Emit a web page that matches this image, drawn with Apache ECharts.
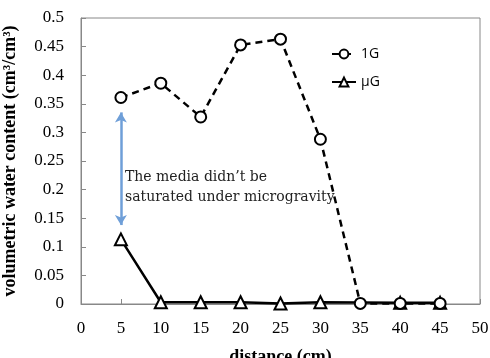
<!DOCTYPE html>
<html><head><meta charset="utf-8">
<script src="https://cdn.jsdelivr.net/npm/echarts@6/dist/echarts.min.js"></script>
<style>html,body{margin:0;padding:0;background:#fff}#c{width:490px;height:358px}</style>
</head><body><div id="c"></div>
<script>
const distance = [5, 10, 15, 20, 25, 30, 35, 40, 45];
const g1 = [0.361, 0.386, 0.327, 0.453, 0.463, 0.288, 0.001, 0.001, 0.001];
const ug = [0.113, 0.003, 0.003, 0.003, 0.001, 0.003, null, 0.002, 0.002];
const arrowRange = [0.335, 0.138];
const note = "The media didn\u2019t be\nsaturated under microgravity";
const serif = "'Liberation Serif','DejaVu Serif',serif";
const chart = echarts.init(document.getElementById('c'));
chart.setOption({
  animation: false,
  grid: {left: 81, right: 10, top: 18, bottom: 54, show: true, borderColor: '#888', borderWidth: 1, outerBoundsMode: 'none', containLabel: false},
  legend: {
    orient: 'vertical', left: 326, top: 42, itemGap: 14, itemWidth: 24, itemHeight: 11,
    textStyle: {fontFamily: "'Open Sans','Liberation Sans',sans-serif", fontSize: 14, color: '#000'},
    data: ['1G', '\u03bcG']
  },
  xAxis: {
    type: 'value', min: 0, max: 50, interval: 5,
    name: 'distance (cm)', nameLocation: 'middle', nameGap: 44,
    nameTextStyle: {fontFamily: serif, fontSize: 18, fontWeight: 'bold', color: '#000'},
    axisLine: {lineStyle: {color: '#888'}},
    axisTick: {inside: true, length: 5, lineStyle: {color: '#888'}},
    axisLabel: {fontFamily: serif, fontSize: 17, color: '#000', margin: 16},
    splitLine: {show: false}
  },
  yAxis: {
    type: 'value', min: 0, max: 0.5, interval: 0.05,
    name: 'volumetric water content (cm\u00b3/cm\u00b3)', nameLocation: 'middle', nameGap: 62,
    nameTextStyle: {fontFamily: serif, fontSize: 18, fontWeight: 'bold', color: '#000'},
    axisLine: {show: true, lineStyle: {color: '#888'}},
    axisTick: {show: true, inside: true, length: 5, lineStyle: {color: '#888'}},
    axisLabel: {fontFamily: serif, fontSize: 17, color: '#000', margin: 17},
    splitLine: {show: false}
  },
  series: [
    {
      name: '1G', type: 'line', data: distance.map((d, i) => [d, g1[i]]),
      symbol: 'circle', symbolSize: 11,
      lineStyle: {color: '#000', width: 2.5, type: [7, 5]},
      itemStyle: {color: '#fff', borderColor: '#000', borderWidth: 2},
      z: 3,
      markLine: {
        silent: true, symbol: ['arrow', 'arrow'], symbolSize: [9, 10],
        label: {show: false},
        lineStyle: {color: '#6f9fd8', width: 2.5, type: 'solid'},
        data: [[{coord: [distance[0], arrowRange[0]]}, {coord: [distance[0], arrowRange[1]]}]]
      }
    },
    {
      name: '\u03bcG', type: 'line', data: distance.map((d, i) => [d, ug[i]]),
      connectNulls: true,
      symbol: 'triangle', symbolSize: 12,
      lineStyle: {color: '#000', width: 2.5},
      itemStyle: {color: '#fff', borderColor: '#000', borderWidth: 2},
      z: 2
    }
  ],
  graphic: [{
    type: 'text', left: 125, top: 167,
    style: {text: note, font: "14px 'DejaVu Serif', serif", fill: '#222', lineHeight: 20}
  }]
});
</script></body></html>
